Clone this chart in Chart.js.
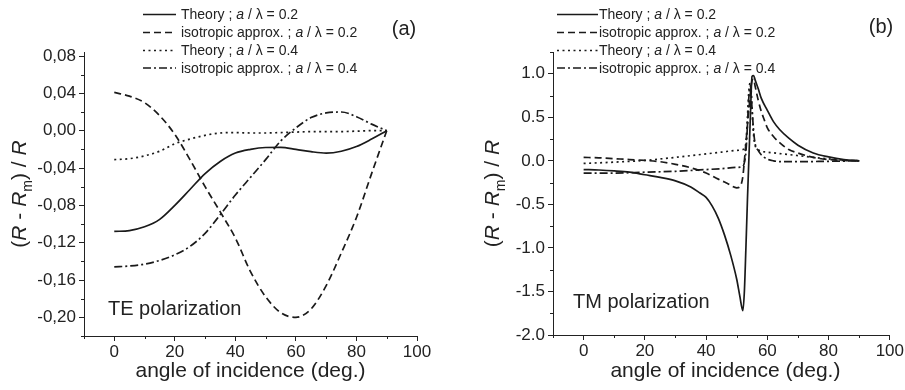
<!DOCTYPE html>
<html><head><meta charset="utf-8">
<script src="https://cdn.jsdelivr.net/npm/chart.js@4/dist/chart.umd.min.js"></script>
<style>
html,body{margin:0;padding:0;background:#fff}
body{width:905px;height:390px;overflow:hidden;position:relative}
#ca{position:absolute;left:0;top:0}
#cb{position:absolute;left:455px;top:0}
</style></head><body>
<canvas id="ca" width="455" height="390"></canvas>
<canvas id="cb" width="450" height="390"></canvas>
<script>
// ---------- data ----------
const angleTE = [0,5,10,15,20,25,30,35,40,45,50,55,60,65,70,75,80,85,90];
const teTheory02 = [-0.108,-0.107,-0.103,-0.095,-0.080,-0.063,-0.046,-0.033,-0.024,-0.020,-0.018,-0.0178,-0.020,-0.0225,-0.024,-0.022,-0.017,-0.009,0];
const teIso02    = [0.041,0.037,0.030,0.016,-0.004,-0.031,-0.060,-0.087,-0.115,-0.151,-0.178,-0.195,-0.200,-0.191,-0.166,-0.131,-0.093,-0.046,0];
const teTheory04 = [-0.031,-0.030,-0.027,-0.022,-0.014,-0.009,-0.005,-0.0025,-0.002,-0.0025,-0.0025,-0.002,-0.0015,-0.001,-0.001,-0.001,-0.0005,0,0];
const teIso04    = [-0.146,-0.145,-0.143,-0.139,-0.133,-0.124,-0.110,-0.090,-0.069,-0.050,-0.031,-0.011,0.003,0.014,0.019,0.020,0.015,0.007,0];

const tmAngleTheory02 = [0,5,10,15,20,25,30,35,38,40,42,44,46,48,50,51,52,52.5,53,53.5,54,54.5,55,55.5,56,57,58,60,62,64,67,70,75,80,85,90];
const tmTheory02      = [-0.10,-0.105,-0.115,-0.13,-0.16,-0.19,-0.23,-0.30,-0.37,-0.42,-0.52,-0.66,-0.85,-1.08,-1.36,-1.55,-1.72,-1.5,-1.0,-0.45,0.05,0.55,0.97,0.98,0.93,0.83,0.72,0.58,0.45,0.36,0.26,0.18,0.09,0.045,0.015,0];
const tmAngleIso02 = [0,5,10,15,20,25,30,35,40,44,47,50,51,52,52.5,53,54,55,55.5,56,57,58,59,60,62,64,67,70,75,80,85,90];
const tmIso02      = [0.04,0.035,0.025,0.015,0.005,-0.01,-0.04,-0.08,-0.14,-0.21,-0.26,-0.31,-0.30,-0.18,0.0,0.2,0.6,0.92,0.94,0.86,0.70,0.57,0.47,0.38,0.28,0.21,0.13,0.09,0.04,0.015,0.005,0];
const tmAngleTheory04 = [0,10,20,30,40,45,50,52,53,53.5,54,54.5,55,55.5,56,57,58,60,65,70,75,80,85,90];
const tmTheory04      = [-0.03,-0.015,0.005,0.04,0.08,0.10,0.12,0.13,0.2,0.5,0.82,0.9,0.6,0.3,0.18,0.13,0.11,0.10,0.08,0.06,0.04,0.022,0.008,0];
const tmAngleIso04 = [0,10,20,30,40,45,50,52,52.5,53,53.5,54,54.5,55,55.5,56,57,58,60,62,65,70,80,90];
const tmIso04      = [-0.14,-0.14,-0.13,-0.12,-0.10,-0.09,-0.075,-0.065,-0.02,0.1,0.4,0.75,0.86,0.6,0.35,0.2,0.12,0.07,0.02,0.0,-0.01,-0.01,-0.005,0];

const xMajorTicks = [0,20,40,60,80,100];
const xMinorTicks = [-10,10,30,50,70,90];
const teYMajorTicks = [-0.20,-0.16,-0.12,-0.08,-0.04,0,0.04,0.08];
const teYMinorTicks = [-0.22,-0.18,-0.14,-0.10,-0.06,-0.02,0.02,0.06];
const tmYMajorTicks = [-2.0,-1.5,-1.0,-0.5,0,0.5,1.0];
const tmYMinorTicks = [-1.75,-1.25,-0.75,-0.25,0.25,0.75,1.25];

const legendNames = ['Theory', 'isotropic approx.', 'Theory', 'isotropic approx.'];
const legendRatios = ['0.2', '0.2', '0.4', '0.4'];

// ---------- styles ----------
const FONT = '"Liberation Sans", Arial, Helvetica, sans-serif';
const INK = '#1a1a1a';
const TXT = '#222';
const dashes = [[], [7,4], [2,3.5], [8,3,2,3]];

function pts(xs, ys){ return xs.map((a,i)=>({x:a, y:ys[i]})); }

function ds(data, k){
  return {data, borderColor: INK, borderWidth: 1.7, borderDash: dashes[k], pointRadius: 0,
          fill:false, cubicInterpolationMode:'monotone', borderCapStyle:'butt'};
}

function drawRich(ctx, x, y, parts, size, align){
  const fontFor = s => s===1 ? `italic ${size}px ${FONT}` : s===2 ? `${Math.round(size*0.68)}px ${FONT}` : `${size}px ${FONT}`;
  let w = 0;
  parts.forEach(([t,s])=>{ ctx.font = fontFor(s); w += ctx.measureText(t).width; });
  let cx = align==='center' ? x - w/2 : x;
  ctx.textBaseline = 'alphabetic';
  ctx.textAlign = 'left';
  parts.forEach(([t,s])=>{
    ctx.font = fontFor(s);
    ctx.fillText(t, cx, s===2 ? y + size*0.28 : y);
    cx += ctx.measureText(t).width;
  });
}

function makeTextPlugin(cfg){
  return {
    id: 'texts',
    afterDraw(chart){
      const ctx = chart.ctx, xs = chart.scales.x, ys = chart.scales.y;
      ctx.save();
      ctx.fillStyle = TXT; ctx.strokeStyle = TXT; ctx.lineWidth = 1;
      ctx.beginPath();
      cfg.xMinor.forEach(v=>{ const p = Math.round(xs.getPixelForValue(v))+0.5; ctx.moveTo(p, xs.top); ctx.lineTo(p, xs.top+3); });
      cfg.yMinor.forEach(v=>{ const p = Math.round(ys.getPixelForValue(v))+0.5; ctx.moveTo(ys.right, p); ctx.lineTo(ys.right-3, p); });
      ctx.stroke();
      drawRich(ctx, (chart.chartArea.left+chart.chartArea.right)/2 + cfg.xTitleShift, 377, [['angle of incidence (deg.)',0]], 21, 'center');
      ctx.save();
      ctx.translate(cfg.yTitleX, (chart.chartArea.top+chart.chartArea.bottom)/2);
      ctx.rotate(-Math.PI/2);
      drawRich(ctx, 0, 0, [['(',0],['R',1],[' - ',0],['R',1],['m',2],[') / ',0],['R',1]], 21, 'center');
      ctx.restore();
      ctx.font = `20px ${FONT}`; ctx.textAlign='center'; ctx.textBaseline='middle';
      ctx.fillText(cfg.panel, cfg.panelX, cfg.panelY);
      ctx.textAlign='left'; ctx.textBaseline='alphabetic';
      ctx.fillText(cfg.pol, cfg.polX, cfg.polY);
      const rows = [14, 32, 50, 67.5];
      chart.data.datasets.forEach((d,i)=>{
        const y = rows[i];
        ctx.save();
        ctx.strokeStyle = INK; ctx.lineWidth = 1.5; ctx.setLineDash(d.borderDash);
        ctx.beginPath(); ctx.moveTo(cfg.lx0, y+0.5); ctx.lineTo(cfg.lx1, y+0.5); ctx.stroke();
        ctx.restore();
        drawRich(ctx, cfg.tx, y+5, [[legendNames[i]+' ; ',0],['a',1],[' / \u03bb = '+legendRatios[i],0]], 14, 'left');
      });
      ctx.restore();
    }
  };
}

function axisCommon(){
  return {
    border: {display:true, color: TXT, width: 1},
    grid: {drawOnChartArea:false, drawTicks:true, tickLength:5, color:TXT, tickColor:TXT, lineWidth:1},
  };
}

function makeChart(id, datasets, yMin, yMax, yMajor, yFmt, yWidth, padRight, xHeight, textCfg){
  return new Chart(document.getElementById(id), {
    type: 'line',
    data: {datasets},
    options: {
      responsive:false, animation:false, devicePixelRatio:1,
      layout: {padding: {top:52, right:padRight, left:0, bottom:0}},
      plugins: {legend:{display:false}, tooltip:{enabled:false}},
      scales: {
        x: Object.assign(axisCommon(), {
          type:'linear', min:-10, max:100,
          afterBuildTicks: s => { s.ticks = xMajorTicks.map(v=>({value:v})); },
          afterFit: s => { s.height = xHeight; },
          ticks: {autoSkip:false, maxRotation:0, padding:1, color:TXT, font:{family:FONT, size:17}, callback: v => String(v)}
        }),
        y: Object.assign(axisCommon(), {
          type:'linear', min:yMin, max:yMax,
          afterBuildTicks: s => { s.ticks = yMajor.map(v=>({value:v})); },
          afterFit: s => { s.width = yWidth; },
          ticks: {autoSkip:false, padding:3, color:TXT, font:{family:FONT, size:17}, callback: yFmt}
        })
      }
    },
    plugins: [makeTextPlugin(textCfg)]
  });
}

makeChart('ca', [
    ds(pts(angleTE, teTheory02), 0),
    ds(pts(angleTE, teIso02), 1),
    ds(pts(angleTE, teTheory04), 2),
    ds(pts(angleTE, teIso04), 3)
  ], -0.22, 0.0843, teYMajorTicks, v => v.toFixed(2).replace('.', ','), 84, 38, 54,
  {xMinor:xMinorTicks, yMinor:teYMinorTicks, xTitleShift:0, yTitleX:26, panel:'(a)', panelX:404, panelY:29,
   pol:'TE polarization', polX:108, polY:315, lx0:143, lx1:176, tx:181});

makeChart('cb', [
    ds(pts(tmAngleTheory02, tmTheory02), 0),
    ds(pts(tmAngleIso02, tmIso02), 1),
    ds(pts(tmAngleTheory04, tmTheory04), 2),
    ds(pts(tmAngleIso04, tmIso04), 3)
  ], -2.0, 1.25, tmYMajorTicks, v => v.toFixed(1), 98, 15, 55,
  {xMinor:xMinorTicks, yMinor:tmYMinorTicks, xTitleShift:4, yTitleX:44, panel:'(b)', panelX:426, panelY:27,
   pol:'TM polarization', polX:118, polY:308, lx0:102, lx1:143, tx:144});
</script>
</body></html>
